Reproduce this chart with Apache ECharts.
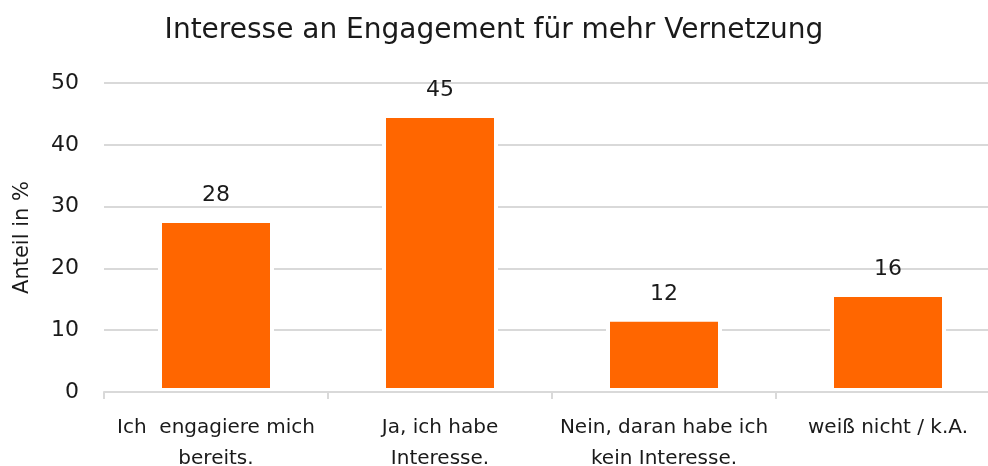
<!DOCTYPE html>
<html>
<head>
<meta charset="utf-8">
<script src="https://cdn.jsdelivr.net/npm/echarts@6/dist/echarts.min.js"></script>
<style>
  html, body { margin: 0; padding: 0; background: #fff; }
  #chart { width: 988px; height: 466px; }
</style>
</head>
<body>
<div id="chart"></div>
<script>
const categories = [
  'Ich  engagiere mich\nbereits.',
  'Ja, ich habe\nInteresse.',
  'Nein, daran habe ich\nkein Interesse.',
  'weiß nicht / k.A.'
]
const shares = [28, 45, 12, 16]
const yTicks = [0, 10, 20, 30, 40, 50]

const font = '"DejaVu Sans", sans-serif'
const textColor = '#1a1a1a'

const chart = echarts.init(document.getElementById('chart'))
chart.setOption({
  animation: false,
  title: {
    text: 'Interesse an Engagement für mehr Vernetzung',
    left: 'center',
    top: 12,
    textStyle: { fontFamily: font, fontSize: 28, fontWeight: 'normal', color: textColor }
  },
  grid: { left: 104, right: -12, top: 83, bottom: 74, outerBoundsMode: 'none' },
  xAxis: {
    type: 'category',
    data: categories,
    z: 10,
    axisLine: { lineStyle: { color: '#d9d9d9', width: 2 } },
    axisTick: { show: true, length: 7, lineStyle: { color: '#d9d9d9', width: 2 } },
    axisLabel: {
      fontFamily: font, fontSize: 20, color: textColor,
      margin: 20, lineHeight: 31, interval: 0
    }
  },
  yAxis: {
    type: 'value',
    min: yTicks[0],
    max: yTicks[yTicks.length - 1],
    interval: 10,
    name: 'Anteil in %',
    nameLocation: 'middle',
    nameGap: 71,
    nameRotate: 90,
    nameTextStyle: { fontFamily: font, fontSize: 21, color: textColor },
    axisLine: { show: false },
    axisTick: { show: false },
    axisLabel: { fontFamily: font, fontSize: 22, color: textColor, margin: 25 },
    splitLine: { lineStyle: { color: '#d9d9d9', width: 2 } }
  },
  series: [{
    type: 'bar',
    data: shares,
    barWidth: 116,
    itemStyle: { color: '#ff6600', borderColor: '#ffffff', borderWidth: 4 },
    label: {
      show: true,
      position: 'top',
      distance: 13,
      fontFamily: font,
      fontSize: 22,
      color: textColor
    }
  }]
})
</script>
</body>
</html>
